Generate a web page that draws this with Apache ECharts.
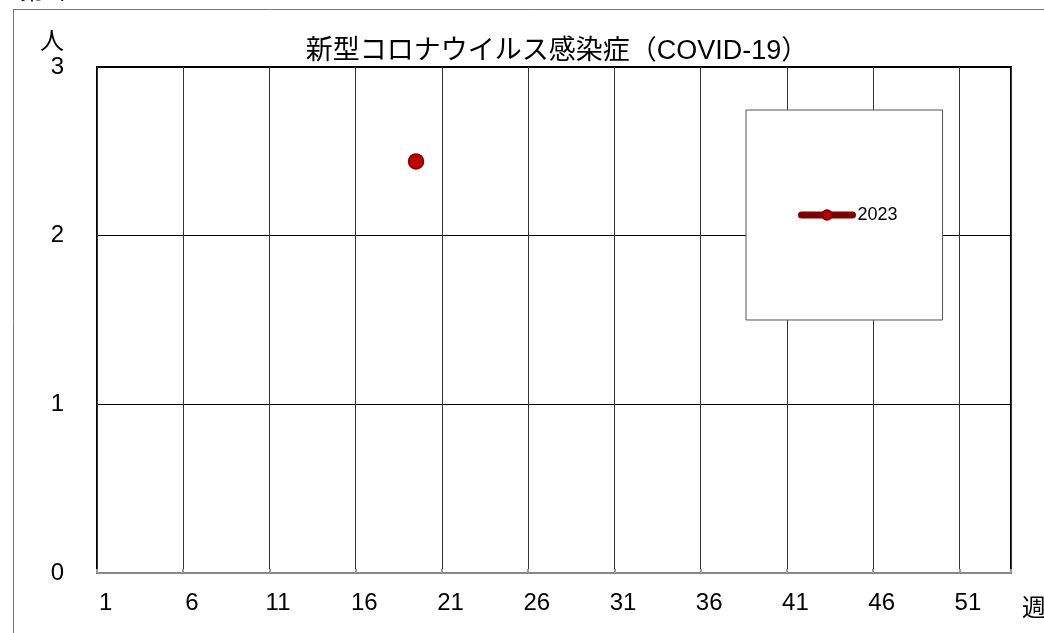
<!DOCTYPE html>
<html>
<head>
<meta charset="utf-8">
<script src="https://cdn.jsdelivr.net/npm/echarts@6/dist/echarts.min.js"></script>
<style>
  html, body { margin: 0; padding: 0; background: #fff; }
  #chart { width: 1044px; height: 633px; }
</style>
</head>
<body>
<div id="chart"></div>
<script>
// 週（1〜53）
const weeks = ['1','2','3','4','5','6','7','8','9','10','11','12','13','14','15','16','17','18',
  '19','20','21','22','23','24','25','26','27','28','29','30','31','32','33','34','35','36',
  '37','38','39','40','41','42','43','44','45','46','47','48','49','50','51','52','53'];
// 2023年の報告（週, 人）
const weeks2023 = ['19'];
const values2023 = [2.44];
const yTicks = [0, 1, 2, 3];

const font = '"Liberation Sans", "Noto Sans CJK JP", sans-serif';

// 週ごとの値（報告のない週は空）
const series2023 = weeks.map(w => {
  const i = weeks2023.indexOf(w);
  return i >= 0 ? values2023[i] : null;
});

const chart = echarts.init(document.getElementById('chart'));
const option = {
  animation: false,
  textStyle: { fontFamily: font },
  title: {
    text: '新型コロナウイルス感染症（COVID-19）',
    left: 552,
    textAlign: 'center',
    top: 33,
    textStyle: { fontSize: 27, fontWeight: 'normal', color: '#000', fontFamily: font }
  },
  grid: {
    left: 97, right: 33, top: 67, bottom: 60,
    show: true, borderColor: '#000', borderWidth: 2
  },
  legend: {
    left: 746, top: 110,
    padding: [96, 45, 96, 52],
    backgroundColor: '#fff',
    borderColor: '#555',
    borderWidth: 1,
    borderRadius: 0,
    itemWidth: 51, itemHeight: 12,
    lineStyle: { width: 7, cap: 'round', color: '#800000' },
    textStyle: { fontSize: 18, color: '#000', fontFamily: font },
    data: ['2023']
  },
  xAxis: {
    type: 'category',
    data: weeks,
    boundaryGap: true,
    axisLine: { show: true, lineStyle: { color: '#888', width: 2 } },
    axisTick: { show: true, inside: true, length: 4, interval: 4, lineStyle: { color: '#999', width: 2 } },
    axisLabel: { interval: 4, fontSize: 24, color: '#000', margin: 18, fontFamily: font },
    splitLine: { show: true, interval: 4, lineStyle: { color: '#333', width: 1 } }
  },
  yAxis: {
    type: 'value',
    min: yTicks[0], max: yTicks[yTicks.length - 1], interval: 1,
    axisLine: { show: false },
    axisTick: { show: false },
    axisLabel: { fontSize: 24, color: '#000', margin: 33, fontFamily: font },
    splitLine: { show: true, lineStyle: { color: '#000', width: 1 } }
  },
  graphic: [
    { type: 'rect', shape: { x: 13.5, y: 9.5, width: 1100, height: 700 },
      style: { fill: 'none', stroke: '#777', lineWidth: 1 }, z: -10, silent: true },
    { type: 'text', x: 20, y: -20, style: { text: '第2位', fontSize: 24, fill: '#000', fontFamily: font } },
    { type: 'text', left: 40, top: 30, style: { text: '人', fontSize: 24, fill: '#000', fontFamily: font } },
    { type: 'text', left: 1022, top: 597, style: { text: '週', fontSize: 24, fill: '#000', fontFamily: font } }
  ],
  series: [{
    name: '2023',
    type: 'line',
    data: series2023,
    showSymbol: true,
    showAllSymbol: true,
    symbol: 'circle',
    symbolSize: 15,
    lineStyle: { color: '#800000', width: 7, cap: 'round' },
    itemStyle: { color: '#c00000', borderColor: '#800000', borderWidth: 1.5 },
    z: 5
  }]
};
chart.setOption(option);
</script>
</body>
</html>
